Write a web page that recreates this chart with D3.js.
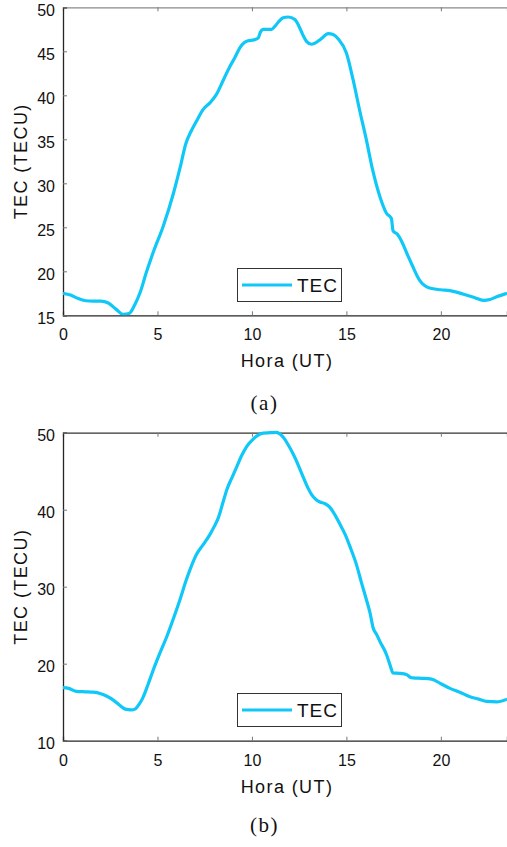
<!DOCTYPE html>
<html>
<head>
<meta charset="utf-8">
<script src="https://cdn.jsdelivr.net/npm/d3@7"></script>
<style>
  html, body { margin: 0; padding: 0; background: #fff; }
  svg { display: block; }
</style>
</head>
<body>
<svg id="fig" width="507" height="847"></svg>
<script>
// Panel (a): TEC over the day, hour (UT) vs TECU
const hoursA = [0, 0.4, 0.8, 1.2, 1.6, 2.0, 2.4, 2.8, 3.2, 3.5, 3.8, 4.1, 4.4, 4.8, 5.3, 5.85,
  6.2, 6.5, 6.8, 7.1, 7.42, 7.8, 8.12, 8.5, 8.84, 9.1, 9.36, 9.6, 9.8, 10.1, 10.33, 10.45, 10.6,
  11.04, 11.2, 11.39, 11.65, 11.92, 12.27, 12.5, 12.71, 12.9, 13.15, 13.6, 14.04, 14.3, 14.57,
  15.0, 15.35, 15.7, 16.06, 16.38, 16.77, 17.12, 17.38, 17.47, 17.7, 17.9, 18.27, 18.5, 18.87,
  19.4, 20.0, 20.48, 21.2, 21.8, 22.24, 22.6, 22.95, 23.5];
const tecA = [17.5, 17.3, 16.9, 16.65, 16.6, 16.6, 16.4, 15.7, 15.1, 15.2, 16.2, 17.7, 19.8, 22.3, 25.1, 28.9,
  31.8, 34.5, 36.0, 37.2, 38.4, 39.2, 40.1, 41.8, 43.3, 44.3, 45.4, 46.0, 46.2, 46.3, 46.5, 47.2, 47.5,
  47.5, 47.8, 48.3, 48.8, 48.9, 48.6, 47.8, 46.8, 46.1, 45.8, 46.3, 47.0, 46.9, 46.4,
  44.8, 41.8, 38.3, 34.9, 31.6, 28.5, 26.6, 26.0, 24.6, 24.2, 23.5, 21.7, 20.6, 19.0,
  18.1, 17.9, 17.8, 17.4, 17.0, 16.7, 16.8, 17.1, 17.5];

// Panel (b)
const hoursB = [0, 0.3, 0.72, 1.2, 1.6, 2.0, 2.3, 2.7, 3.0, 3.3, 3.6, 3.81, 4.05, 4.25, 4.5, 4.78,
  5.1, 5.49, 5.85, 6.19, 6.5, 6.8, 7.07, 7.4, 7.78, 8.0, 8.23, 8.45, 8.67, 8.95, 9.2, 9.45, 9.72,
  10.0, 10.33, 10.6, 11.0, 11.3, 11.5, 11.66, 11.9, 12.19, 12.45, 12.72, 12.95, 13.15, 13.4, 13.6,
  13.85, 14.13, 14.4, 14.66, 14.95, 15.19, 15.54, 15.8, 16.06, 16.25, 16.42, 16.6, 16.77, 17.12,
  17.3, 17.47, 17.8, 18.18, 18.4, 18.53, 19.0, 19.5, 20.0, 20.48, 21.0, 21.54, 22.0, 22.42, 22.95, 23.5];
const tecB = [16.9, 16.8, 16.4, 16.35, 16.3, 16.1, 15.8, 15.2, 14.6, 14.1, 14.0, 14.1, 14.8, 15.7, 17.3, 19.2,
  21.2, 23.5, 25.9, 28.3, 30.7, 32.7, 34.2, 35.4, 36.8, 37.8, 39.0, 40.8, 42.6, 44.2, 45.6, 47.0, 48.2,
  49.0, 49.7, 49.95, 50.0, 50.05, 49.8, 49.4, 48.5, 47.2, 45.8, 44.2, 42.9, 42.0, 41.3, 41.0,
  40.8, 40.3, 39.3, 38.1, 36.7, 35.2, 32.8, 30.5, 28.3, 26.6, 24.6, 23.8, 22.9, 21.2,
  19.9, 18.8, 18.75, 18.6, 18.2, 18.15, 18.1, 18.0, 17.4, 16.8, 16.3, 15.7, 15.4, 15.1, 15.05, 15.4];

const xTicks = [0, 5, 10, 15, 20];
const yTicksA = [15, 20, 25, 30, 35, 40, 45, 50];
const yTicksB = [10, 20, 30, 40, 50];
const xTitle = "Hora (UT)";
const yTitle = "TEC (TECU)";
const seriesName = "TEC";

const lineColor = "#0fc8f8";
const axisColor = "#262626";
const sansFont = "'Liberation Sans', Arial, Helvetica, sans-serif";
const serifFont = "'Liberation Serif', 'DejaVu Serif', serif";

const svg = d3.select("#fig");

function panel(cfg) {
  const left = 63, right = 507;
  const x = d3.scaleLinear().domain([0, 23.5]).range([left, right]);
  const y = d3.scaleLinear().domain(cfg.yDomain).range([cfg.bottom, cfg.top]);
  const g = svg.append("g");

  // clip region for the data curve
  const clipId = "clip-" + cfg.tag;
  svg.append("defs").append("clipPath").attr("id", clipId)
    .append("rect").attr("x", left).attr("y", cfg.top - 3)
    .attr("width", right - left).attr("height", cfg.bottom - cfg.top + 3);

  // bottom axis: inward ticks
  const xAxis = d3.axisBottom(x).tickValues(xTicks).tickSize(-4).tickPadding(0).tickFormat(d3.format("d"));
  const gx = g.append("g").attr("transform", `translate(0,${cfg.bottom})`).call(xAxis);
  gx.select(".domain").attr("stroke", axisColor).attr("stroke-width", 1.3);
  gx.selectAll(".tick line").attr("stroke", "#777");
  gx.selectAll(".tick text").attr("font-family", sansFont).attr("font-size", 16)
    .attr("fill", "#111").attr("y", 25).attr("dy", 0);

  // top border with ticks
  const xTop = d3.axisTop(x).tickValues(xTicks).tickSize(-4).tickFormat("");
  const gt = g.append("g").attr("transform", `translate(0,${cfg.top})`).call(xTop);
  gt.select(".domain").attr("stroke", cfg.topColor).attr("stroke-width", 1.2);
  gt.selectAll(".tick line").attr("stroke", "#777");

  // left axis
  const yAxis = d3.axisLeft(y).tickValues(cfg.yTicks).tickSize(-4).tickPadding(8).tickFormat(d3.format("d"));
  const gy = g.append("g").attr("transform", `translate(${left},0)`).call(yAxis);
  gy.select(".domain").attr("stroke", axisColor).attr("stroke-width", 1.3);
  gy.selectAll(".tick line").attr("stroke", "#777");
  gy.selectAll(".tick text").attr("font-family", sansFont).attr("font-size", 16)
    .attr("fill", "#111").attr("x", -8).attr("dy", "0.5em");

  // data line
  const line = d3.line().x(d => x(d[0])).y(d => y(d[1])).curve(d3.curveMonotoneX);
  g.append("path")
    .datum(cfg.hours.map((h, i) => [h, cfg.values[i]]))
    .attr("clip-path", `url(#${clipId})`)
    .attr("d", line)
    .attr("fill", "none")
    .attr("stroke", lineColor)
    .attr("stroke-width", 3.2)
    .attr("stroke-linejoin", "round");

  // axis titles
  g.append("text").attr("x", 287).attr("y", cfg.bottom + 52)
    .attr("text-anchor", "middle").attr("font-family", sansFont).attr("font-size", 18)
    .attr("letter-spacing", 1.4).attr("fill", "#111").text(xTitle);
  g.append("text")
    .attr("transform", `translate(27,${(cfg.top + cfg.bottom) / 2}) rotate(-90)`)
    .attr("text-anchor", "middle").attr("font-family", sansFont).attr("font-size", 18)
    .attr("letter-spacing", 1.4).attr("fill", "#111").text(yTitle);

  // legend
  const lg = g.append("g");
  lg.append("rect").attr("x", 237.5).attr("y", cfg.legendTop + 0.5).attr("width", 104).attr("height", 33)
    .attr("fill", "#fff").attr("stroke", "#333").attr("stroke-width", 1);
  lg.append("line").attr("x1", 242).attr("x2", 292).attr("y1", cfg.legendTop + 17).attr("y2", cfg.legendTop + 17)
    .attr("stroke", lineColor).attr("stroke-width", 3.2);
  lg.append("text").attr("x", 297).attr("y", cfg.legendTop + 24)
    .attr("font-family", sansFont).attr("font-size", 19).attr("letter-spacing", 1)
    .attr("fill", "#111").text(seriesName);

  // caption
  g.append("text").attr("x", 264.5).attr("y", cfg.captionY)
    .attr("text-anchor", "middle").attr("font-family", serifFont).attr("font-size", 21)
    .attr("letter-spacing", 1.5).attr("fill", "#111").text(cfg.caption);
}

panel({ tag: "a", top: 7.3, bottom: 315.3, yDomain: [15, 50], yTicks: yTicksA,
  hours: hoursA, values: tecA, legendTop: 268, captionY: 410, caption: "(a)", topColor: "#8a8a8a" });
panel({ tag: "b", top: 432.7, bottom: 740.7, yDomain: [10, 50], yTicks: yTicksB,
  hours: hoursB, values: tecB, legendTop: 693, captionY: 832, caption: "(b)", topColor: "#333" });
</script>
</body>
</html>
